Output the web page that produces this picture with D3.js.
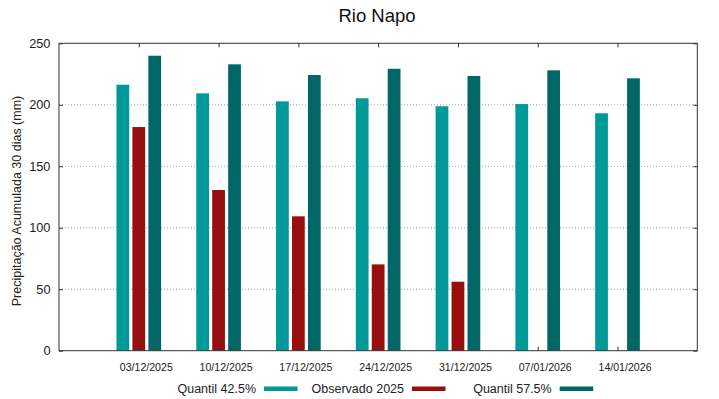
<!DOCTYPE html>
<html>
<head>
<meta charset="utf-8">
<script src="https://cdn.jsdelivr.net/npm/d3@7"></script>
<style>
  html, body { margin: 0; padding: 0; background: #fff; }
  svg { display: block; font-family: "Liberation Sans", Arial, sans-serif; }
</style>
</head>
<body>
<svg id="chart" width="719" height="399"></svg>
<script>
// ---- data ----
const title = "Rio Napo";
const yLabel = "Precipitação Acumulada 30 dias (mm)";
const categories = ["03/12/2025", "10/12/2025", "17/12/2025", "24/12/2025", "31/12/2025", "07/01/2026", "14/01/2026"];
const seriesNames = ["Quantil 42.5%", "Observado 2025", "Quantil 57.5%"];
const seriesColors = ["#009999", "#990f0f", "#006666"];
const quantil425 = [216.3, 209.3, 202.8, 205.3, 198.8, 200.6, 193.1];
const observado2025 = [181.9, 130.7, 109.3, 70.2, 56.1, null, null];
const quantil575 = [239.9, 232.9, 224.2, 229.3, 223.4, 228.0, 221.5];
const yTicks = [0, 50, 100, 150, 200, 250];

const seriesValues = [quantil425, observado2025, quantil575];

// ---- layout ----
const svg = d3.select("#chart");
const margin = { left: 59, right: 719 - 697.3, top: 43.3, bottom: 399 - 350.7 };
const W = 719, H = 399;
const x = d3.scaleLinear().domain([-1, categories.length]).range([margin.left, W - margin.right]);
const y = d3.scaleLinear().domain([0, 250]).range([H - margin.bottom, margin.top]);

const barOffset = 0.2, barWidth = 0.16;

// grid lines
const gridG = svg.append("g");
gridG.selectAll("line").data(yTicks.filter(t => t > 0 && t < 250)).join("line")
  .attr("x1", x(-1)).attr("x2", x(categories.length))
  .attr("y1", d => y(d)).attr("y2", d => y(d))
  .attr("stroke", "#a0a0a0").attr("stroke-width", 1)
  .attr("stroke-dasharray", "1,2");

// bars
seriesValues.forEach((vals, s) => {
  svg.append("g").selectAll("rect")
    .data(vals.map((v, i) => ({ v, i })).filter(d => d.v != null))
    .join("rect")
    .attr("x", d => x(d.i + (s - 1) * barOffset - barWidth / 2))
    .attr("width", d => x(barWidth) - x(0))
    .attr("y", d => y(d.v))
    .attr("height", d => y(0) - y(d.v))
    .attr("fill", seriesColors[s]);
});

// frame
svg.append("rect")
  .attr("x", x(-1)).attr("y", y(250))
  .attr("width", x(categories.length) - x(-1))
  .attr("height", y(0) - y(250))
  .attr("fill", "none").attr("stroke", "#333").attr("stroke-width", 1);

// y axis (left, ticks inward) and mirrored right ticks
const yAxisL = d3.axisLeft(y).tickValues(yTicks).tickSize(-4).tickPadding(8.5).tickFormat(d3.format("d"));
const gL = svg.append("g").attr("transform", `translate(${x(-1)},0)`).call(yAxisL);
gL.select(".domain").remove();
gL.selectAll("line").attr("stroke", "#333");
gL.selectAll("text").attr("font-size", "12.8px").attr("fill", "#222")
  .attr("font-family", "'Liberation Sans', Arial, sans-serif");

const yAxisR = d3.axisRight(y).tickValues(yTicks).tickSize(-4).tickFormat("");
const gR = svg.append("g").attr("transform", `translate(${x(categories.length)},0)`).call(yAxisR);
gR.select(".domain").remove();
gR.selectAll("line").attr("stroke", "#333");

// x axis ticks (bottom and top, inward)
const idx = categories.map((c, i) => i);
const xAxisB = d3.axisBottom(x).tickValues(idx).tickSize(-4).tickPadding(13).tickFormat(i => categories[i]);
const gB = svg.append("g").attr("transform", `translate(0,${y(0)})`).call(xAxisB);
gB.select(".domain").remove();
gB.selectAll("line").attr("stroke", "#333");
gB.selectAll("text").attr("font-size", "10.6px").attr("fill", "#222").attr("dx", 7)
  .attr("font-family", "'Liberation Sans', Arial, sans-serif");

const xAxisT = d3.axisTop(x).tickValues(idx).tickSize(-4).tickFormat("");
const gT = svg.append("g").attr("transform", `translate(0,${y(250)})`).call(xAxisT);
gT.select(".domain").remove();
gT.selectAll("line").attr("stroke", "#333");

// title
svg.append("text").attr("x", 377).attr("y", 22).attr("text-anchor", "middle")
  .attr("font-size", "18.5px").attr("fill", "#111").text(title);

// y label
svg.append("text").attr("transform", "translate(21,201) rotate(-90)")
  .attr("text-anchor", "middle").attr("font-size", "12.5px").attr("fill", "#222").text(yLabel);

// legend
const legendTextEnds = [256, 404, 551.7];
const legendG = svg.append("g");
seriesNames.forEach((name, s) => {
  legendG.append("text").attr("x", legendTextEnds[s]).attr("y", 393)
    .attr("text-anchor", "end").attr("font-size", "12.5px").attr("fill", "#222").text(name);
  legendG.append("rect").attr("x", legendTextEnds[s] + 8).attr("y", 386.5)
    .attr("width", 33.5).attr("height", 4.5).attr("fill", seriesColors[s]);
});
</script>
</body>
</html>
